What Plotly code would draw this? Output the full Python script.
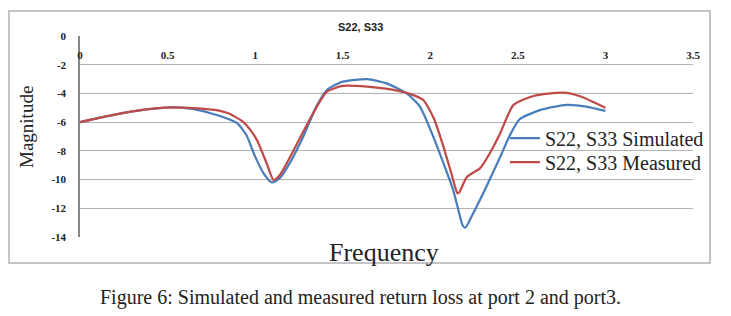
import plotly.graph_objects as go

W, H = 731, 316

# Data
sim_freq = [0, 0.15, 0.3, 0.45, 0.53, 0.65, 0.75, 0.85, 0.9, 0.95, 1.0, 1.05, 1.095, 1.14, 1.2,
            1.275, 1.35, 1.41, 1.5, 1.64, 1.75, 1.865, 1.94, 2.0, 2.075, 2.13, 2.16, 2.185, 2.2,
            2.245, 2.32, 2.40, 2.455, 2.51, 2.63, 2.78, 2.89, 3.0]
sim_mag = [-6, -5.6, -5.25, -5.02, -4.97, -5.1, -5.4, -5.8, -6.1, -6.9, -8.4, -9.6, -10.2, -9.9, -8.8,
           -7.0, -4.9, -3.76, -3.18, -3.0, -3.3, -4.0, -4.9, -6.5, -8.85, -10.7, -12.1, -13.2, -13.35,
           -12.35, -10.5, -8.4, -6.9, -5.8, -5.15, -4.8, -4.92, -5.22]

meas_freq = [0, 0.15, 0.3, 0.45, 0.53, 0.65, 0.77, 0.85, 0.93, 0.97, 1.01, 1.066, 1.105, 1.14, 1.18,
             1.256, 1.33, 1.41, 1.5, 1.64, 1.79, 1.90, 1.96, 2.02, 2.075, 2.12, 2.155, 2.165, 2.21,
             2.285, 2.34, 2.40, 2.475, 2.59, 2.76, 2.855, 3.0]
meas_mag = [-6, -5.6, -5.25, -5.02, -4.97, -5.02, -5.15, -5.4, -5.97, -6.5, -7.25, -8.87, -10.03, -9.7,
            -8.87, -7.1, -5.4, -3.88, -3.48, -3.53, -3.76, -4.1, -4.46, -5.73, -7.7, -9.56, -10.95,
            -10.9, -9.8, -9.2, -8.17, -6.75, -4.8, -4.18, -3.95, -4.2, -5.0]

x_ticks = [0, 0.5, 1, 1.5, 2, 2.5, 3, 3.5]
x_ticklabels = ["0", "0.5", "1", "1.5", "2", "2.5", "3", "3.5"]
y_ticks = [0, -2, -4, -6, -8, -10, -12, -14]
y_ticklabels = ["0", "-2", "-4", "-6", "-8", "-10", "-12", "-14"]

series_names = ["S22, S33 Simulated", "S22, S33 Measured"]
chart_title = "S22, S33"
x_title = "Frequency"
y_title = "Magnitude"
caption = "Figure 6: Simulated and measured return loss at port 2 and port3."

BLUE = "#4A7EBB"
RED = "#BE4B48"

def px_x(p):
    return p / W

def px_y(p):
    return 1 - p / H

fig = go.Figure()
fig.add_trace(go.Scatter(x=sim_freq, y=sim_mag, mode="lines", name=series_names[0], legend="legend",
                         line=dict(color=BLUE, width=2.25, shape="spline", smoothing=0.6)))
fig.add_trace(go.Scatter(x=meas_freq, y=meas_mag, mode="lines", name=series_names[1], legend="legend2",
                         line=dict(color=RED, width=2.25, shape="spline", smoothing=0.6)))

serif = "Liberation Serif"
leg_common = dict(xanchor="left", yanchor="middle", font=dict(family=serif, size=20, color="#222"),
                  bgcolor="rgba(0,0,0,0)", itemwidth=30, borderwidth=0)

fig.update_layout(
    width=W, height=H,
    margin=dict(l=0, r=0, t=0, b=0, autoexpand=False),
    paper_bgcolor="white", plot_bgcolor="white",
    showlegend=True,
    legend=dict(x=px_x(505), y=px_y(138), **leg_common),
    legend2=dict(x=px_x(505), y=px_y(162), **leg_common),
    xaxis=dict(domain=[px_x(80), px_x(693)], range=[0, 3.5], side="top",
               tickvals=x_ticks, ticktext=x_ticklabels, automargin=False,
               ticklabelposition="inside", ticklabeloverflow="allow", ticks="", ticklabelstandoff=12,
               tickfont=dict(family=serif, size=11, color="#222", weight="bold"),
               showgrid=False, zeroline=False, showline=False, anchor="y"),
    yaxis=dict(domain=[px_y(237), px_y(36)], range=[-14, 0], automargin=False,
               tickvals=y_ticks, ticktext=y_ticklabels, ticks="", ticklabelstandoff=10,
               tickfont=dict(family=serif, size=11, color="#222", weight="bold"),
               showgrid=True, gridcolor="#B4B4B4", gridwidth=1,
               zeroline=False, showline=True, linecolor="#868686", linewidth=1.5),
    shapes=[
        dict(type="rect", xref="paper", yref="paper", x0=px_x(9), x1=px_x(710),
             y0=px_y(263), y1=px_y(11), line=dict(color="#C4C4C4", width=2), layer="below"),
        dict(type="line", xref="paper", yref="y", x0=px_x(80), x1=px_x(693), y0=-4, y1=-4,
             line=dict(color="#8C8C8C", width=1), layer="below"),
        dict(type="line", xref="paper", yref="y", x0=px_x(80), x1=px_x(693), y0=-10, y1=-10,
             line=dict(color="#8C8C8C", width=1), layer="below"),
    ],
    annotations=[
        dict(text=chart_title, xref="paper", yref="paper", x=px_x(360), y=px_y(27),
             xanchor="center", yanchor="middle", showarrow=False,
             font=dict(family="Liberation Sans", size=11, color="#222", weight="bold")),
        dict(text=y_title, xref="paper", yref="paper", x=px_x(27), y=px_y(127), textangle=-90,
             xanchor="center", yanchor="middle", showarrow=False,
             font=dict(family=serif, size=19, color="#222")),
        dict(text=x_title, xref="paper", yref="paper", x=px_x(384), y=px_y(252),
             xanchor="center", yanchor="middle", showarrow=False,
             font=dict(family=serif, size=26, color="#222")),
        dict(text=caption, xref="paper", yref="paper", x=px_x(360), y=px_y(297),
             xanchor="center", yanchor="middle", showarrow=False,
             font=dict(family=serif, size=20, color="#222")),
    ],
)

fig.write_html("out.html", config={"displayModeBar": False},
               post_script="document.body.style.margin='0';document.body.style.overflow='hidden';")
